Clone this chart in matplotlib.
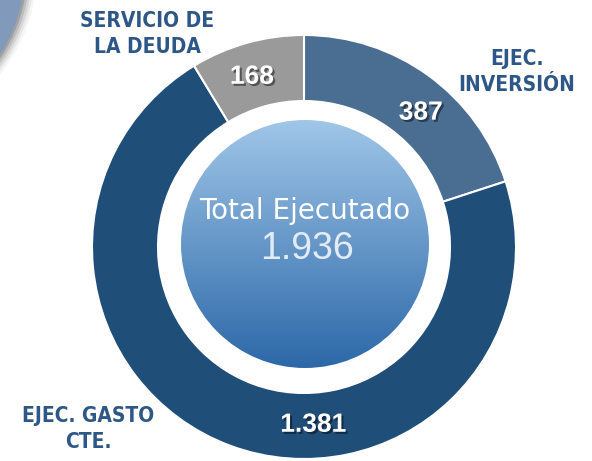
import numpy as np
import matplotlib
matplotlib.use('Agg')
import matplotlib.pyplot as plt
import matplotlib.patheffects as pe
from matplotlib.patches import Circle

# data
categories = ['EJEC.\nINVERSIÓN', 'EJEC. GASTO\nCTE.', 'SERVICIO DE\nLA DEUDA']
values = [387, 1381, 168]
colors = ['#4A6D92', '#1F4E79', '#9A9A9A']
total_label = 'Total Ejecutado'

W, H = 592, 461
cx, cy = 304, H - 247
r_out, r_in = 212, 146

def fmt(v):
    return f'{v:,}'.replace(',', '.')

fig = plt.figure(figsize=(W / 100, H / 100), dpi=100)
ax = fig.add_axes([0, 0, 1, 1])

# corner shape from a neighbouring graphic (top-left)
for i, a in enumerate([0.05, 0.08, 0.12, 0.18, 0.25]):
    ax.add_patch(Circle((-130, H + 30), 155 + 12 - 2.4 * i, color='#505050', alpha=a, lw=0))
ax.add_patch(Circle((-130, H + 30), 155, color='#8199BA', lw=0))

wedges, _ = ax.pie(values, radius=r_out, center=(cx, cy), startangle=90,
                   counterclock=False, colors=colors,
                   wedgeprops=dict(width=r_out - r_in, edgecolor='white', linewidth=1.5))

# gradient centre disc
r_c = 124
ccx, ccy = 305, H - 244
grad = np.linspace(0, 1, 256).reshape(-1, 1)
top = np.array([160, 198, 232]) / 255
bot = np.array([44, 104, 168]) / 255
img = top + (bot - top) * grad[..., None]
img = np.repeat(img, 2, axis=1)
im = ax.imshow(img, extent=(ccx - r_c, ccx + r_c, ccy - r_c, ccy + r_c),
               origin='upper', aspect='auto', zorder=3)
clip = Circle((ccx, ccy), r_c, transform=ax.transData)
im.set_clip_path(clip)

ax.text(ccx, H - 211, total_label, ha='center', va='center', fontsize=20,
        color='white', family='DejaVu Sans', zorder=4)
ax.text(ccx + 2, H - 249, fmt(sum(values)), ha='center', va='center', fontsize=27,
        color='#E3ECF6', family='Liberation Sans', zorder=4)

# value labels on the ring
label_angles = [49, -87, 107]
shadow = [pe.SimplePatchShadow(offset=(1.5, -1.5), shadow_rgbFace='black', alpha=0.45), pe.Normal()]
for v, ang in zip(values, label_angles):
    t = np.deg2rad(ang)
    ax.text(cx + 178 * np.cos(t), cy + 178 * np.sin(t), fmt(v), ha='center', va='center',
            fontsize=19, fontweight='bold', color='white', family='Liberation Sans',
            path_effects=shadow, zorder=5)

# category labels
label_pos = [(517, H - 72), (88, H - 429), (147, H - 34)]
for txt, (x, y) in zip(categories, label_pos):
    ax.text(x, y, txt, ha='center', va='center', fontsize=15, fontweight='bold',
            fontstretch='condensed', color='#2D5787', family='DejaVu Sans',
            linespacing=1.35, zorder=5)

ax.set_xlim(0, W)
ax.set_ylim(0, H)
ax.set_aspect('equal')
ax.axis('off')
fig.savefig('out.png', dpi=100)
